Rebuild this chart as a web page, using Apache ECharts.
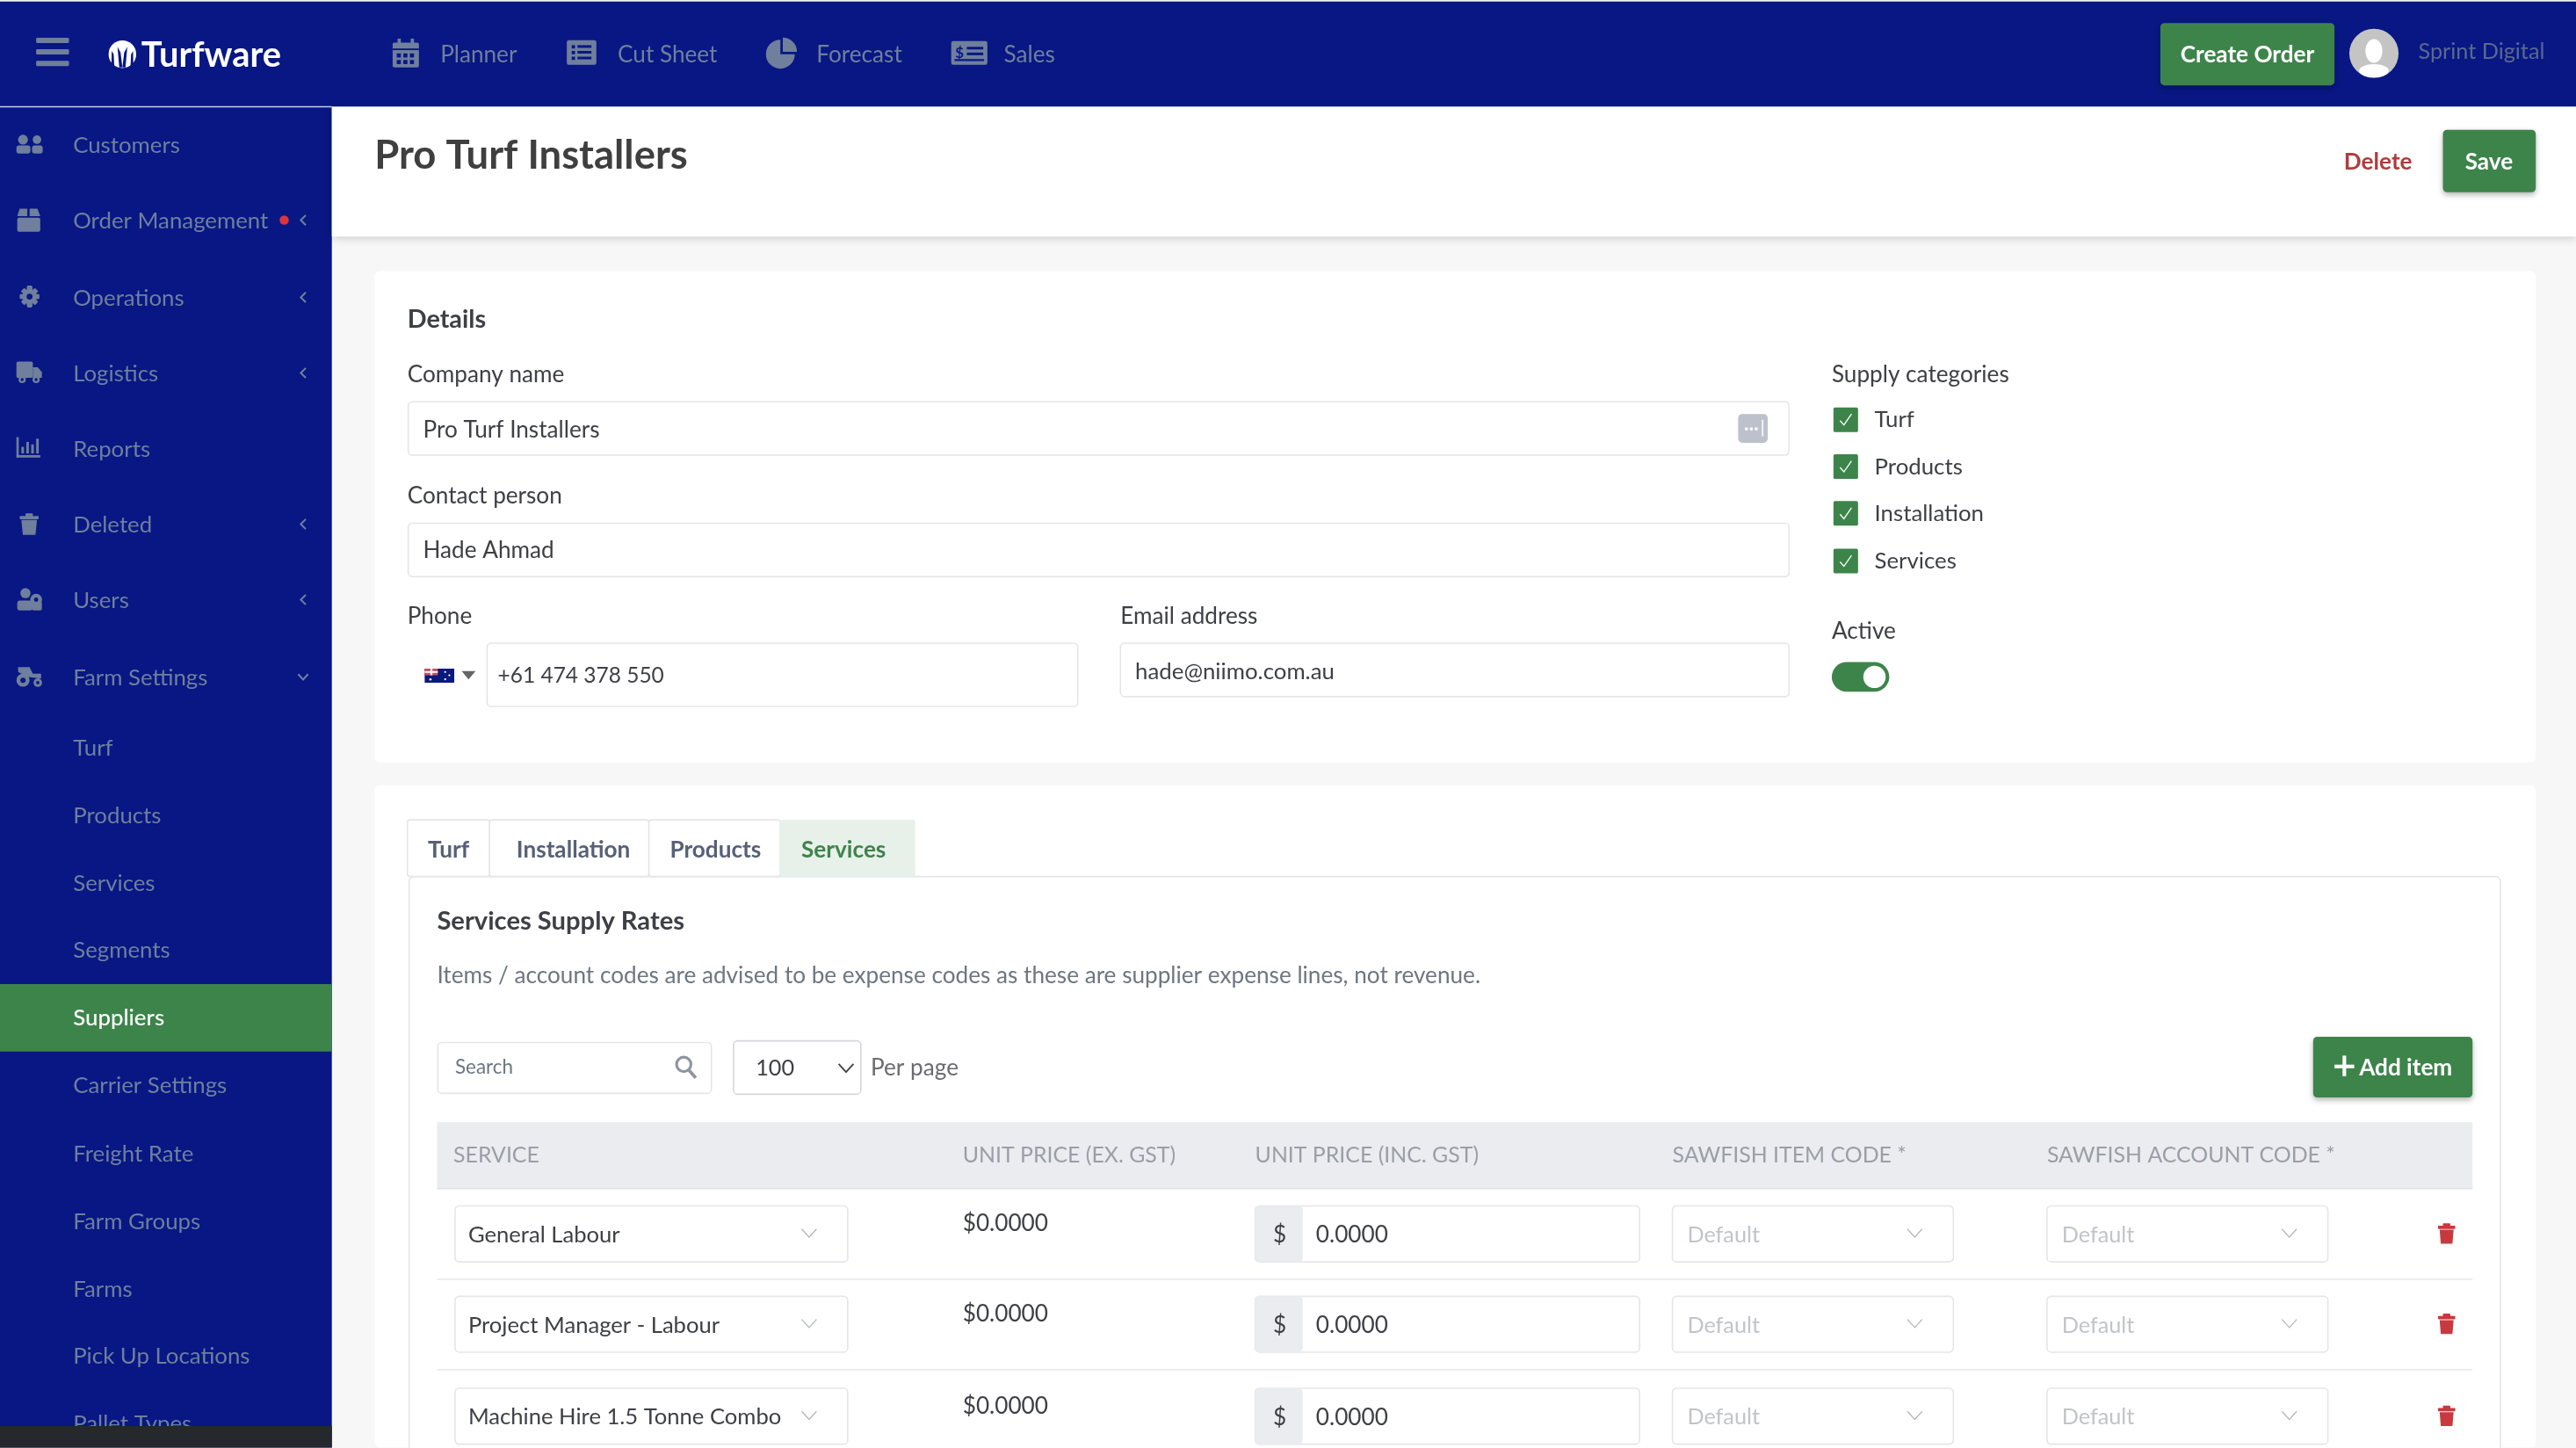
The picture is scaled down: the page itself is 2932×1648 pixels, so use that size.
<!DOCTYPE html>
<html>
<head>
	<meta charset="UTF-8">
	<title>Pro Turf Installers</title>
	<script src="https://cdn.jsdelivr.net/npm/echarts@6/dist/echarts.min.js"></script>
	<style>html,body{margin:0;padding:0;background:#f7f7f7}#main{width:2932px;height:1648px}</style>
</head>
<body>
	<div id="main"></div>
<script type="text/javascript">
// page text
var navLabels = ['Planner', 'Cut Sheet', 'Forecast', 'Sales'];
var sideMain = ['Customers', 'Order Management', 'Operations', 'Logistics', 'Reports', 'Deleted', 'Users', 'Farm Settings'];
var sideSub = ['Turf', 'Products', 'Services', 'Segments', 'Suppliers', 'Carrier Settings', 'Freight Rate', 'Farm Groups', 'Farms', 'Pick Up Locations', 'Pallet Types'];
var supplyCategories = ['Turf', 'Products', 'Installation', 'Services'];
var tabLabels = ['Turf', 'Installation', 'Products', 'Services'];
var tableHeaders = ['SERVICE', 'UNIT PRICE (EX. GST)', 'UNIT PRICE (INC. GST)', 'SAWFISH ITEM CODE *', 'SAWFISH ACCOUNT CODE *'];
var serviceNames = ['General Labour', 'Project Manager - Labour', 'Machine Hire 1.5 Tonne Combo'];
var priceEx = ['$0.0000', '$0.0000', '$0.0000'];
var priceInc = ['0.0000', '0.0000', '0.0000'];

// coordinates below are written on a 1568 wide grid, S brings them to the real page
var S = 2932 / 1568;
var FONT = 'Lato';
var BLUE = '#081784', GREEN = '#3d844b', MUTED = '#6f7f9c', DARK = '#3f4046', LINE = '#e6e6ea', RED = '#c8393f';
var g = [];

function rect(x, y, w, h, fill, r, stroke, extra) {
	var style = { fill: fill || '#fff' };
	if (stroke) { style.stroke = stroke; style.lineWidth = 1.6; }
	if (extra) { for (var k in extra) style[k] = extra[k]; }
	g.push({ type: 'rect', silent: true, shape: { x: x * S, y: y * S, width: w * S, height: h * S, r: (r || 0) * S }, style: style });
}
function circle(x, y, r, fill) {
	g.push({ type: 'circle', silent: true, shape: { cx: x * S, cy: y * S, r: r * S }, style: { fill: fill } });
}
function text(str, x, y, size, color, weight, align) {
	g.push({
		type: 'text', silent: true, x: x * S, y: (y + 0.7) * S,
		style: {
			text: str, fill: color, fontFamily: FONT, fontSize: size * S, fontWeight: weight || 'normal',
			align: align || 'left', verticalAlign: 'middle'
		}
	});
}
function line(pts, color, width) {
	g.push({
		type: 'polyline', silent: true,
		shape: { points: pts.map(function (p) { return [p[0] * S, p[1] * S]; }) },
		style: { stroke: color, fill: null, lineWidth: (width || 1) * S }
	});
}
function poly(pts, fill) {
	g.push({
		type: 'polygon', silent: true,
		shape: { points: pts.map(function (p) { return [p[0] * S, p[1] * S]; }) },
		style: { fill: fill }
	});
}
function chevronDown(x, y, color, w, half) {
	var h = half || 4.5;
	line([[x - h, y - h * 0.55], [x, y + h * 0.55], [x + h, y - h * 0.55]], color, w || 0.7);
}
function chevronLeft(x, y, color) { line([[x + 1.6, y - 3], [x - 1.4, y], [x + 1.6, y + 3]], color, 1.1); }

// page background and top bar
rect(0, 0, 1568, 881, '#f7f7f7');
rect(0, 0, 1568, 1, '#eceef2');
rect(0, 1, 1568, 64, BLUE);
rect(22, 23, 20, 3.2, MUTED, 0.6); rect(22, 30, 20, 3.2, MUTED, 0.6); rect(22, 37, 20, 3.2, MUTED, 0.6);

// logo
circle(74.5, 33, 8.4, '#fff');
poly([[74.5, 41], [73.4, 32], [71.5, 28.5], [72.6, 41]], BLUE);
poly([[74.5, 41], [75.6, 32], [77.5, 28.5], [76.4, 41]], BLUE);
poly([[69.6, 41], [69.2, 33], [68, 31], [67.8, 41]], BLUE);
poly([[79.4, 41], [79.8, 33], [81, 31], [81.2, 41]], BLUE);
text('Turfware', 86, 33, 21.3, '#fff', 'bold');

// nav icons
rect(239, 26, 16, 15, MUTED, 1); rect(242, 23.5, 2, 4, MUTED); rect(250, 23.5, 2, 4, MUTED);
rect(239, 29.5, 16, 1, BLUE);
for (var i = 0; i < 3; i++) { for (var j = 0; j < 2; j++) { rect(241.5 + i * 4, 32.5 + j * 4, 2.5, 2.5, BLUE); } }
rect(345, 24.5, 18, 15, MUTED, 1.2);
for (i = 0; i < 3; i++) { rect(348, 27.5 + i * 3.5, 2, 2, BLUE); rect(351.5, 27.5 + i * 3.5, 8.5, 1.6, BLUE); }
g.push({ type: 'sector', silent: true, shape: { cx: 475 * S, cy: 33 * S, r: 8.8 * S, r0: 0, startAngle: 0, endAngle: 1.5 * Math.PI, clockwise: true }, style: { fill: MUTED } });
g.push({ type: 'sector', silent: true, shape: { cx: 476.5 * S, cy: 31.5 * S, r: 8.6 * S, r0: 0, startAngle: 1.5 * Math.PI, endAngle: 2 * Math.PI, clockwise: true }, style: { fill: MUTED } });
rect(579, 25, 22, 14.5, MUTED, 1.2);
text('$', 584, 31.6, 9, BLUE, 'bold', 'center');
rect(588.5, 28.5, 10, 1.6, BLUE); rect(588.5, 32, 10, 1.6, BLUE); rect(581, 36, 18, 1.2, BLUE);
var navX = [268, 376, 497, 611];
navLabels.forEach(function (n, k) { text(n, navX[k], 32.5, 14, MUTED); });

// right of top bar
rect(1315, 14, 106, 38, GREEN, 2.5, null, { shadowBlur: 6, shadowColor: 'rgba(0,0,0,0.3)', shadowOffsetY: 3 });
text('Create Order', 1368, 32.6, 14, '#fff', 'bold', 'center');
circle(1445, 32.5, 15, '#c4c4c4');
g.push({ type: 'ellipse', silent: true, shape: { cx: 1445 * S, cy: 31 * S, rx: 5.2 * S, ry: 7.2 * S }, style: { fill: '#fff' } });
g.push({ type: 'ellipse', silent: true, shape: { cx: 1445 * S, cy: 43 * S, rx: 9 * S, ry: 4 * S }, style: { fill: '#fff' } });
text('Sprint Digital', 1472, 31, 13.5, '#5b688f');

// sidebar
rect(0, 65, 202, 816, BLUE);
rect(0, 64.6, 202, 0.8, '#c9cde4');
var mainY = [88, 134, 181, 227, 273, 319, 365, 412];
sideMain.forEach(function (n, k) {
	text(n, 44.5, mainY[k], 13.8, MUTED);
});
[1, 2, 3, 5, 6].forEach(function (k) { chevronLeft(184.5, mainY[k], MUTED); });
chevronDown(184.5, mainY[7], MUTED, 1.1, 3);
circle(173, 134, 2.8, '#d9363e');

// sidebar icons
circle(14, 85, 3, MUTED); circle(22.5, 85, 2.6, MUTED);
rect(10, 88.5, 8.5, 5, MUTED, 1.6); rect(19.5, 88.5, 6.5, 5, MUTED, 1.6);
rect(10.5, 132.5, 14, 8.5, MUTED, 1); poly([[12, 127], [16.6, 127], [16.6, 131.5], [10.5, 131.5]], MUTED); poly([[18, 127], [22.8, 127], [24.5, 131.5], [18, 131.5]], MUTED);
for (i = 0; i < 4; i++) {
	rect(16.5, 174, 3, 13, MUTED, 0.8);
	g.push({ type: 'rect', silent: true, originX: 18 * S, originY: 180.5 * S, rotation: (i + 1) * Math.PI / 4, shape: { x: 16.5 * S, y: 174.5 * S, width: 3 * S, height: 12 * S, r: 1 }, style: { fill: MUTED } });
}
circle(18, 180.5, 4.6, MUTED); circle(18, 180.5, 1.8, BLUE);
rect(10, 220, 10, 10, MUTED, 1); poly([[20, 223.5], [23, 223.5], [25.5, 226.5], [25.5, 230], [20, 230]], MUTED);
circle(13.5, 231, 2.2, MUTED); circle(22, 231, 2.2, MUTED); circle(13.5, 231, 0.9, BLUE); circle(22, 231, 0.9, BLUE);
rect(10, 266, 1.4, 12.5, MUTED); rect(10, 277, 14.5, 1.5, MUTED);
[[13, 272, 5], [16, 269, 8], [19, 270.5, 6.5], [22, 267, 10]].forEach(function (b) { rect(b[0], b[1], 1.6, b[2] - 1, MUTED); });
rect(12, 314, 11.5, 2, MUTED, 0.5); rect(15.5, 312.5, 4.5, 2, MUTED, 0.5); poly([[13, 316.5], [22.5, 316.5], [21.6, 325.5], [13.9, 325.5]], MUTED);
circle(15.5, 361, 3.1, MUTED); rect(10.5, 365.5, 9.5, 6, MUTED, 1.6); circle(22, 365, 3.6, MUTED); rect(19.5, 366, 6, 5.5, MUTED, 1);
circle(22, 365, 1.3, BLUE);
circle(14, 414, 4, MUTED); circle(14, 414, 1.6, BLUE); circle(23, 415.5, 2.6, MUTED); circle(23, 415.5, 1, BLUE);
poly([[11, 406], [18, 406], [20, 410], [25, 410], [25, 413], [17, 412], [11, 409]], MUTED);

var subY = [455, 496, 537, 578, 619, 660, 702, 743, 784, 825, 866];
rect(0, 599, 202, 41, GREEN);
sideSub.forEach(function (n, k) {
	text(n, 44.5, subY[k], 13.8, n === 'Suppliers' ? '#fff' : MUTED, n === 'Suppliers' ? 500 : 'normal');
});
rect(0, 868, 202, 13, '#25282c');

// title strip
rect(202, 65, 1366, 79, '#fff', 0, null, { shadowBlur: 10, shadowColor: 'rgba(0,0,0,0.18)', shadowOffsetY: 2 });
text('Pro Turf Installers', 228, 94, 24.3, '#3f3f3f', 'bold');
text('Delete', 1447.5, 98, 14, '#b03c3c', 'bold', 'center');
rect(1487, 79, 56.5, 38, GREEN, 2.5, null, { shadowBlur: 6, shadowColor: 'rgba(0,0,0,0.3)', shadowOffsetY: 3 });
text('Save', 1515, 98, 14, '#fff', 'bold', 'center');

// details card
rect(228, 165, 1315.5, 299, '#fff', 3);
text('Details', 248, 194, 15.4, DARK, 'bold');
text('Company name', 248, 227.5, 14, DARK);
rect(248.5, 244.5, 840.5, 32.5, '#fff', 2.5, LINE);
text('Pro Turf Installers', 257.5, 261, 14, DARK);
rect(1058, 252, 18, 17.5, '#bcc1cb', 2.5);
circle(1063, 261, 1, '#fff'); circle(1066, 261, 1, '#fff'); circle(1069, 261, 1, '#fff'); rect(1072.5, 255.5, 0.8, 10, '#fff');
text('Contact person', 248, 301, 14, DARK);
rect(248.5, 318.5, 840.5, 32.5, '#fff', 2.5, LINE);
text('Hade Ahmad', 257.5, 334.5, 14, DARK);
text('Phone', 248, 374.5, 14, DARK);
rect(258.5, 407, 18, 8.5, '#0a1a7c');
rect(258.5, 407, 8, 4, '#c9525f');
rect(262, 407, 1.2, 4, '#fff'); rect(258.5, 408.5, 8, 1, '#fff');
circle(262, 413.5, 0.7, '#fff'); circle(271, 409, 0.6, '#fff'); circle(273.5, 411, 0.6, '#fff'); circle(271, 413.5, 0.6, '#fff');
poly([[281, 408.5], [289.5, 408.5], [285.2, 413.5]], '#666');
rect(296.5, 391.5, 359.5, 38.5, '#fff', 2.5, LINE);
text('+61 474 378 550', 303, 410.5, 13.1, DARK);
text('Email address', 682, 374.5, 14, DARK);
rect(682, 391.5, 407, 32.5, '#fff', 2.5, LINE);
text('hade@niimo.com.au', 691, 408, 13.8, DARK);

text('Supply categories', 1115, 227.5, 14, DARK);
var checkY = [255.5, 284, 312.5, 341.5];
supplyCategories.forEach(function (n, k) {
	var y = checkY[k];
	rect(1116, y - 7.5, 15, 15, GREEN, 1);
	line([[1120, y + 0.5], [1122.4, y + 3.2], [1127, y - 3.5]], '#fff', 0.7);
	text(n, 1141, y - 0.5, 13.8, DARK);
});
text('Active', 1115, 383.5, 14, DARK);
rect(1115, 403, 35, 18, GREEN, 9);
circle(1141, 412, 6.8, '#fff');

// rates card
rect(228, 478, 1315.5, 403, '#fff', 3);
rect(249, 533.5, 1273, 360, '#fff', 3, LINE);
var tabX = [248, 298, 395, 475, 557];
var tabTextX = [273, 349, 435.5, 513.5];
tabLabels.forEach(function (n, k) {
	var on = n === 'Services';
	rect(tabX[k], 499, tabX[k + 1] - tabX[k], 34.5, on ? '#e8f0ea' : '#fff', 1.5, on ? null : LINE);
	text(n, tabTextX[k], 516.5, 14, on ? GREEN : '#566078', 'bold', 'center');
});
text('Services Supply Rates', 266, 560, 15.6, DARK, 'bold');
text('Items / account codes are advised to be expense codes as these are supplier expense lines, not revenue.', 266, 593, 14, '#6e7681');

// search row
rect(266.5, 634.5, 166.5, 31, '#fff', 2.5, LINE);
text('Search', 277, 649, 12, '#6e7681');
g.push({ type: 'circle', silent: true, shape: { cx: 416.2 * S, cy: 647.8 * S, r: 4.4 * S }, style: { fill: null, stroke: '#8f959f', lineWidth: 1.7 * S } });
line([[419.5, 651.5], [423.5, 656]], '#8f959f', 2);
rect(446.5, 633.5, 77.5, 32.5, '#fff', 2.5, '#d5d7dc');
text('100', 460, 649.5, 13.5, DARK);
chevronDown(515, 650, '#444', 1);
text('Per page', 530, 649.5, 14, '#6b6b70');
rect(1408, 631, 97, 37, GREEN, 2.5, null, { shadowBlur: 6, shadowColor: 'rgba(0,0,0,0.3)', shadowOffsetY: 3 });
rect(1421, 648, 12, 2.2, '#fff'); rect(1425.9, 642.5, 2.2, 12.5, '#fff');
text('Add item', 1436, 649.5, 14, '#fff', 'bold');

// table
rect(266, 683, 1239, 40.5, '#ebecf0');
rect(266, 723, 1239, 0.8, '#dfe0e5');
var headX = [276, 586, 764, 1018, 1246];
tableHeaders.forEach(function (n, k) { text(n, headX[k], 702.5, 13.3, '#9a9ea6'); });
var rowY = [751, 806, 862];
rect(266, 778.2, 1239, 0.8, LINE);
rect(266, 833.4, 1239, 0.8, LINE);
serviceNames.forEach(function (n, k) {
	var y = rowY[k];
	rect(277, y - 17, 239, 34, '#fff', 2.5, LINE);
	text(n, 285, y, 13.7, DARK);
	chevronDown(492.5, y - 0.5, '#b5b7bd');
	text(priceEx[k], 586, y - 7, 14, DARK);
	rect(764, y - 17, 234, 34, '#fff', 2.5, LINE);
	rect(764, y - 17, 29, 34, '#ebecf0', 2.5);
	text('$', 779, y, 14, DARK, 'normal', 'center');
	text(priceInc[k], 801, y, 14, DARK);
	[1018, 1246].forEach(function (x) {
		rect(x, y - 17, 171, 34, '#fff', 2.5, LINE);
		text('Default', x + 9, y, 13.5, '#c2c4ca');
		chevronDown(x + 147.5, y - 0.5, '#b5b7bd');
	});
	rect(1484, y - 5, 10.5, 2, RED, 0.4);
	rect(1487, y - 6.5, 4.5, 2, RED, 0.4);
	poly([[1485, y - 2.5], [1493.5, y - 2.5], [1492.8, y + 6], [1485.7, y + 6]], RED);
});

var chart = echarts.init(document.getElementById('main'));
chart.setOption({ animation: false, graphic: { elements: g } });
</script>
</body>
</html>
